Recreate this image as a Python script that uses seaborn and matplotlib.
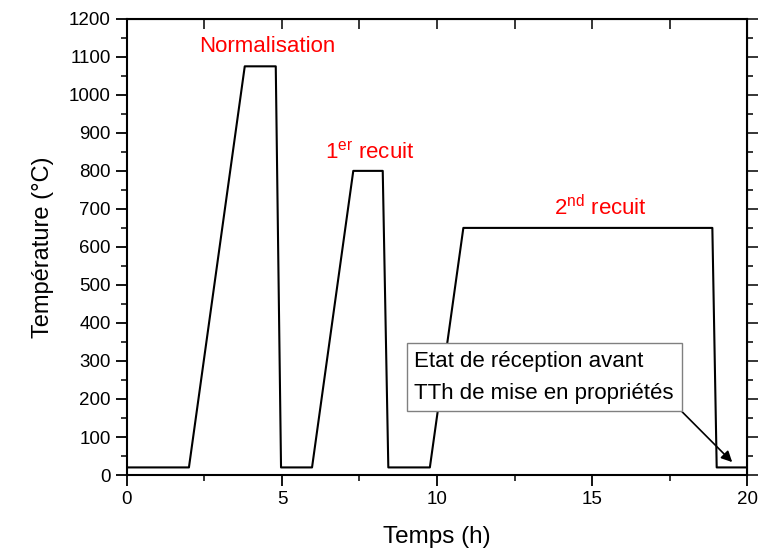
import matplotlib
matplotlib.use("Agg")
import matplotlib.pyplot as plt
import seaborn as sns
import pandas as pd
from matplotlib.ticker import MultipleLocator

# profil thermique (temps en h, temperature en degC)
temps = [0, 2.0, 3.8, 4.8, 4.97, 5.97, 7.3, 8.25, 8.43, 9.77, 10.85, 18.88, 19.02, 20]
temperature = [20, 20, 1075, 1075, 20, 20, 800, 800, 20, 20, 650, 650, 20, 20]

etapes = ["Normalisation", "1$^{\\mathrm{er}}$ recuit", "2$^{\\mathrm{nd}}$ recuit"]
etapes_x = [4.54, 7.82, 15.28]
etapes_y = [1113, 832, 684]

note = "Etat de réception avant\nTTh de mise en propriétés"

df = pd.DataFrame({"Temps (h)": temps, "Température (°C)": temperature})

sns.set_style("ticks")
plt.rcParams["font.family"] = ["Liberation Sans", "DejaVu Sans"]
plt.rcParams["mathtext.fontset"] = "custom"
plt.rcParams["mathtext.rm"] = "Liberation Sans"
plt.rcParams["mathtext.it"] = "Liberation Sans"
plt.rcParams["text.color"] = "black"
plt.rcParams["axes.labelcolor"] = "black"

fig = plt.figure(figsize=(7.6, 5.53), dpi=100)
ax = fig.add_axes([0.167, 0.141, 0.816, 0.825])

sns.lineplot(data=df, x="Temps (h)", y="Température (°C)", sort=False,
             estimator=None, color="black", linewidth=1.5, ax=ax)

ax.set_xlim(0, 20)
ax.set_ylim(0, 1200)
ax.xaxis.set_major_locator(MultipleLocator(5))
ax.xaxis.set_minor_locator(MultipleLocator(2.5))
ax.yaxis.set_major_locator(MultipleLocator(100))
ax.yaxis.set_minor_locator(MultipleLocator(50))
ax.tick_params(which="major", direction="out", length=8, width=1.3,
               labelsize=13.5, colors="black")
ax.tick_params(which="minor", direction="out", length=4.5, width=1.3)
for s in ax.spines.values():
    s.set_linewidth(1.5)
    s.set_color("black")

# graduations haut et droite
top = ax.secondary_xaxis("top")
top.xaxis.set_major_locator(MultipleLocator(2.5))
top.tick_params(direction="in", length=7, width=1.3, labeltop=False)
right = ax.secondary_yaxis("right")
right.yaxis.set_major_locator(MultipleLocator(100))
right.yaxis.set_minor_locator(MultipleLocator(50))
right.tick_params(which="major", direction="out", length=8, width=1.3, labelright=False)
right.tick_params(which="minor", direction="out", length=4.5, width=1.3)

ax.set_xlabel("Temps (h)", fontsize=17.5, labelpad=13)
ax.set_ylabel("Température (°C)", fontsize=17, labelpad=11)

for lab, x, y in zip(etapes, etapes_x, etapes_y):
    ax.text(x, y, lab, color="red", fontsize=16, ha="center", va="baseline")

ax.annotate(note, xy=(19.52, 34), xytext=(9.27, 257), fontsize=16,
            ha="left", va="center", linespacing=1.65,
            bbox=dict(boxstyle="square,pad=0.35", fc="white", ec="#808080", lw=1),
            arrowprops=dict(arrowstyle="-|>", color="black", lw=1.2,
                            relpos=(1, 0), shrinkA=0, shrinkB=0))

fig.savefig("out.png", dpi=100)
